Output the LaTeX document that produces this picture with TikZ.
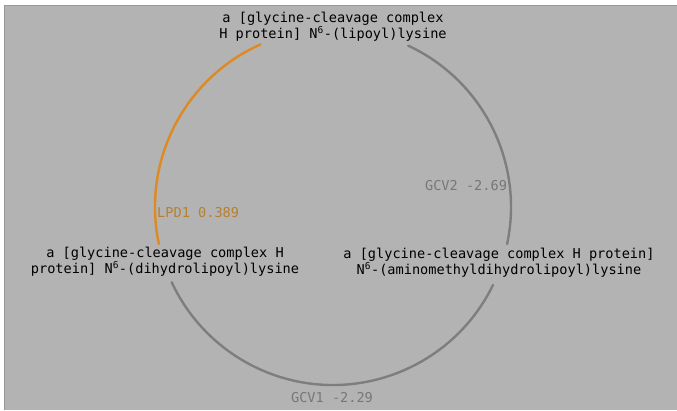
\documentclass[tikz,border=0pt]{standalone}
\usepackage{fontspec}
\usetikzlibrary{calc}
\setmonofont{DejaVu Sans Mono}
\definecolor{panel}{HTML}{B3B3B3}
\definecolor{paneledge}{HTML}{999999}
\definecolor{lpdcol}{HTML}{DE8A24}
\definecolor{lpdtext}{HTML}{B8802E}
\definecolor{gcvcol}{HTML}{7E7E7E}
\definecolor{gcvtext}{HTML}{777777}
\tikzset{
  metab/.style={align=center, inner sep=0pt, font=\ttfamily\fontsize{13.6}{15}\selectfont, text=black},
  enzlabel/.style={inner sep=0pt, font=\ttfamily\fontsize{13.6}{15}\selectfont},
  rxn/.style={line width=2.4pt, line cap=round},
}
\begin{document}
\begin{tikzpicture}[x=1pt,y=1pt]
  \useasboundingbox (0,0) rectangle (677,410);
  % canvas
  \fill[white] (0,0) rectangle (677,410);
  \fill[panel] (4,0) rectangle (677,405);
  \draw[paneledge, line width=1pt] (4.5,0) -- (4.5,404.5) -- (677,404.5);

  % cycle geometry
  \coordinate (ctr) at (333,203);
  \def\R{178}
  \coordinate (lpdA) at ($(ctr)+(192:\R)$);
  \coordinate (gcvtwoA) at ($(ctr)+(65:\R)$);
  \coordinate (gcvoneA) at ($(ctr)+(-26:\R)$);

  % metabolites
  \node[metab] (lip) at (333,383) {a [glycine-cleavage complex\\H protein] N\textsuperscript{6}-(lipoyl)lysine};
  \node[metab] (dihyd) at (165,148) {a [glycine-cleavage complex H\\protein] N\textsuperscript{6}-(dihydrolipoyl)lysine};
  \node[metab] (amino) at (499,147) {a [glycine-cleavage complex H protein]\\N\textsuperscript{6}-(aminomethyldihydrolipoyl)lysine};

  % reactions
  \draw[rxn, lpdcol] (lpdA) arc[start angle=192, end angle=114, radius=\R];
  \draw[rxn, gcvcol] (gcvtwoA) arc[start angle=65, end angle=-12, radius=\R];
  \draw[rxn, gcvcol] (gcvoneA) arc[start angle=-26, end angle=-155, radius=\R];

  % enzyme labels
  \node[enzlabel, text=lpdtext, anchor=west] (lpd) at (157,197) {LPD1 0.389};
  \node[enzlabel, text=gcvtext] (gcvtwo) at (466,224) {GCV2 -2.69};
  \node[enzlabel, text=gcvtext] (gcvone) at (332,12) {GCV1 -2.29};
\end{tikzpicture}
\end{document}
